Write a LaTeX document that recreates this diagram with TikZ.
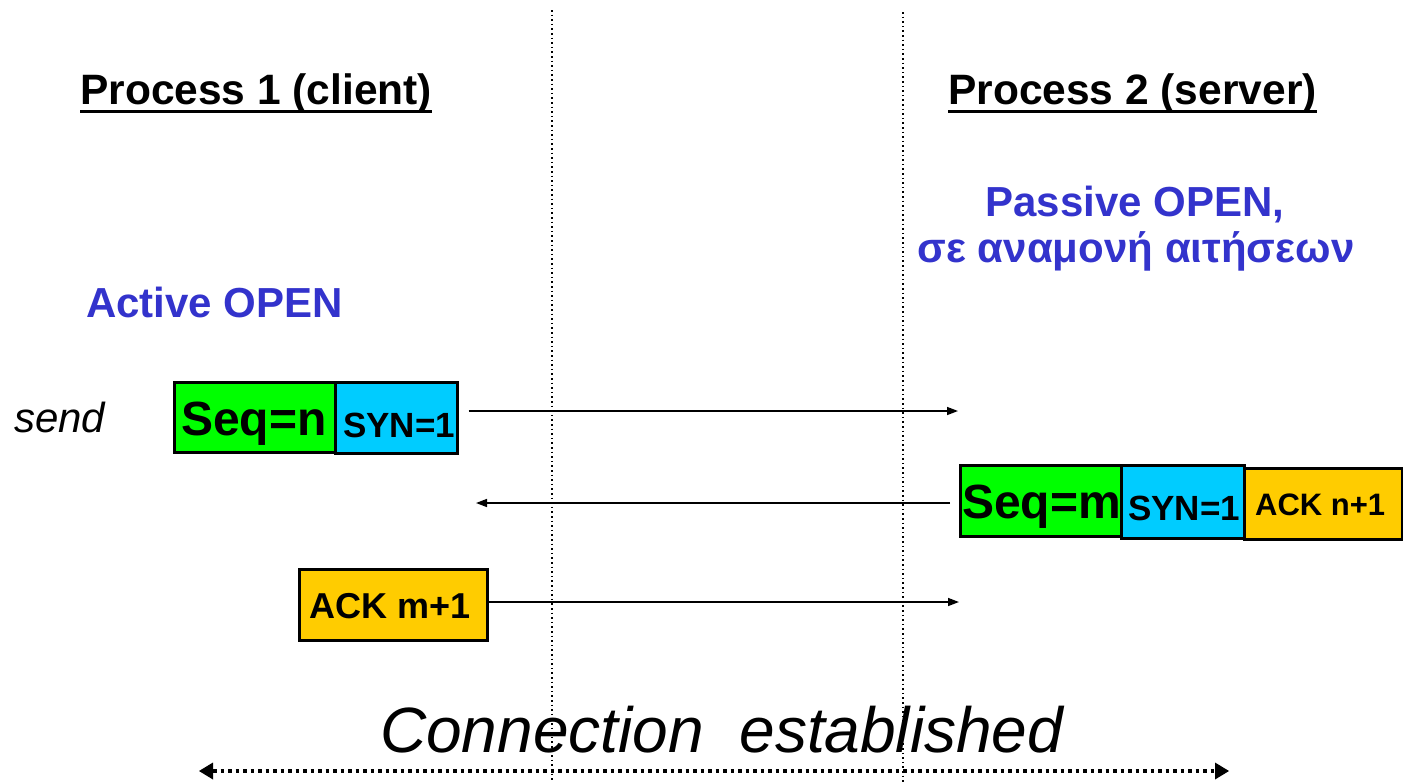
\documentclass[tikz,border=0pt]{standalone}
\usepackage{fontspec}
\setmainfont{Liberation Sans}
\usetikzlibrary{arrows.meta}

\definecolor{seqgreen}{RGB}{0,255,0}
\definecolor{syncyan}{RGB}{0,204,255}
\definecolor{ackorange}{RGB}{255,204,0}
\definecolor{noteblue}{RGB}{51,51,204}

\tikzset{
  fld/.style={draw=black, line width=2.5pt, inner sep=0pt, anchor=north west},
  txt/.style={inner sep=0pt, anchor=base west},
  title/.style={txt, font=\fontsize{42.5}{48}\selectfont\bfseries},
  note/.style={inner sep=0pt, anchor=base, text=noteblue, font=\fontsize{42}{48}\selectfont\bfseries},
  seqtxt/.style={txt, font=\fontsize{48}{54}\selectfont\bfseries},
  syntxt/.style={txt, font=\fontsize{35}{40}\selectfont\bfseries},
  msg/.style={line width=1.5pt, -{Triangle[length=11pt,width=8pt]}},
  lifeline/.style={line width=1.6pt, dash pattern=on 1.6pt off 3pt},
}

\begin{document}
\begin{tikzpicture}[x=1pt, y=-1pt]
\useasboundingbox (0,0) rectangle (1403,782);

% timeline separators
\coordinate (l1top) at (552,10);
\coordinate (l1bot) at (552,782);
\coordinate (l2top) at (903,12);
\coordinate (l2bot) at (903,782);
\draw[lifeline] (l1top) -- (l1bot);
\draw[lifeline] (l2top) -- (l2bot);

% headings
\node[title] (p1) at (80,104) {Process 1 (client)};
\node[title] (p2) at (948,104) {Process 2 (server)};
\draw[line width=3.5pt] ([yshift=-7.5pt]p1.base west) -- ([yshift=-7.5pt]p1.base east);
\draw[line width=3.5pt] ([yshift=-7.5pt]p2.base west) -- ([yshift=-7.5pt]p2.base east);

% states
\node[note] (passive) at (1135,216) {Passive OPEN,};
\node[note] (wait) at (1136,262) {σε αναμονή αιτήσεων};
\node[note, anchor=base west] (active) at (86,317) {Active OPEN};
\node[txt, font=\fontsize{42}{48}\selectfont\itshape] (send) at (14,432) {send};

% SYN segment from the client
\node[fld, fill=seqgreen, minimum width=161pt, minimum height=70pt] (seqn) at (173,381) {};
\node[fld, fill=syncyan, minimum width=122pt, minimum height=71pt] (synn) at (334,381) {};
\node[seqtxt] (seqnt) at (181,435) {Seq=n};
\node[syntxt] (synnt) at (343,437) {SYN=1};

% SYN+ACK segment from the server
\node[fld, fill=seqgreen, minimum width=161pt, minimum height=71pt] (seqm) at (959,464) {};
\node[fld, fill=syncyan, minimum width=123pt, minimum height=73pt] (synm) at (1120,464) {};
\node[fld, fill=ackorange, minimum width=158pt, minimum height=71pt] (ackn) at (1243,467) {};
\node[seqtxt] (seqmt) at (962,518) {Seq=m};
\node[syntxt] (synmt) at (1128,520) {SYN=1};
\node[txt, font=\fontsize{31}{36}\selectfont\bfseries] (acknt) at (1255,515) {ACK n+1};

% ACK segment from the client
\node[fld, fill=ackorange, minimum width=188pt, minimum height=71pt] (ackm) at (298,568) {};
\node[txt, font=\fontsize{36}{42}\selectfont\bfseries] (ackmt) at (309,618) {ACK m+1};

% message arrows
\coordinate (m1end) at (958,411);
\coordinate (m2start) at (950,503);
\coordinate (m2end) at (476,503);
\coordinate (m3end) at (959,602);
\draw[msg] (synn.east |- m1end) ++(10,0) -- (m1end);
\draw[msg] (m2start) -- (m2end);
\draw[msg] (ackm.east |- m3end) -- (m3end);

% result
\node[txt, font=\fontsize{64}{70}\selectfont\itshape] (done) at (380,752) {Connection\ \ established};
\coordinate (spanl) at (199,771);
\coordinate (spanr) at (1229,771);
\draw[line width=4.5pt, dash pattern=on 3.5pt off 4pt,
      {Triangle[length=14pt,width=17pt,line width=0pt]}-{Triangle[length=14pt,width=17pt,line width=0pt]}]
      (spanl) -- (spanr);
\end{tikzpicture}
\end{document}
